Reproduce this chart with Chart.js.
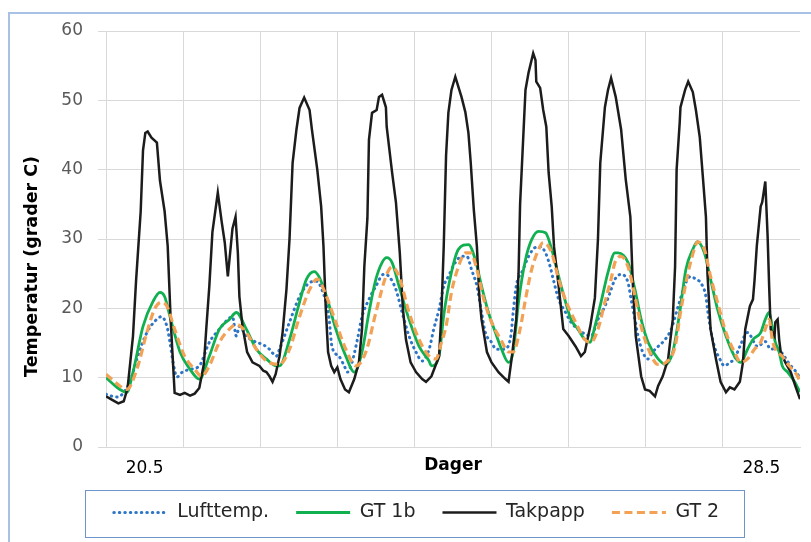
<!DOCTYPE html>
<html><head><meta charset="utf-8">
<script src="https://cdn.jsdelivr.net/npm/chart.js@4.4.0/dist/chart.umd.min.js"></script>
<style>html,body{margin:0;padding:0;background:#fff;}canvas{display:block;}</style>
</head><body>
<canvas id="c" width="811" height="542"></canvas>
<script>
// ---- data (days, °C) ----
const seriesNames = ['Lufttemp.', 'GT 1b', 'Takpapp', 'GT 2'];
const xTickValues = [20.5, 28.5];
const xTickLabels = ['20.5', '28.5'];
const yTickValues = [0, 10, 20, 30, 40, 50, 60];
const xAxisTitle = 'Dager';
const yAxisTitle = 'Temperatur (grader C)';

const luftDays = [20.00,20.14,20.31,20.40,20.53,20.63,20.72,20.79,20.83,20.87,20.92,20.99,21.09,21.21,21.34,21.47,21.58,21.64,21.69,21.73,21.82,21.95,22.03,22.12,22.21,22.25,22.38,22.51,22.64,22.73,22.80,22.89,22.93,23.02,23.09,23.13,23.19,23.26,23.32,23.41,23.50,23.60,23.67,23.76,23.84,23.93,24.02,24.10,24.19,24.25,24.32,24.38,24.44,24.53,24.61,24.68,24.74,24.81,24.87,24.92,25.00,25.06,25.16,25.25,25.28,25.32,25.41,25.48,25.57,25.63,25.70,25.76,25.80,25.87,25.96,26.03,26.12,26.21,26.29,26.38,26.47,26.55,26.60,26.68,26.77,26.81,26.86,26.90,26.96,27.03,27.09,27.16,27.25,27.33,27.42,27.52,27.58,27.65,27.71,27.78,27.80,27.84,27.89,27.96,28.02,28.09,28.15,28.22,28.32,28.45,28.55,28.62,28.68,28.77,28.86,28.97,29.00];
const luftTemp = [7.6,7.2,9.4,12.7,16.5,18.1,18.8,17.4,15.1,12.2,10.1,10.8,11.2,11.7,15.1,17,18.4,18.8,16,17.4,16,15.1,14.8,14.1,13.1,14.1,18,21.7,23.7,23.9,22.7,18.8,14.5,13.1,11.7,10.8,12.2,15.5,18.8,21.3,23.2,24.9,24.6,22.7,19.4,16,13.7,12.4,14.1,17,19.9,23.2,24.6,26.6,27.5,27.5,25.6,23.2,19.4,16.5,15.1,14.1,14.1,16,19.4,23.2,25.6,27.5,28.8,28.9,28,26,24.2,21.3,19.4,18,17,16.3,16,18.4,20.3,22.7,24.2,24.9,23.7,21.3,18.4,16,13.7,12.7,13.7,14.5,15.5,17,20.3,23.7,24.6,24.2,23.7,21.7,19.9,17,14.5,12.7,11.7,12.2,12.7,14.5,16.5,14.5,15.2,14.1,14.2,13.5,12,10.5,9.8];

const gt1bDays = [20.00,20.08,20.18,20.27,20.35,20.48,20.61,20.70,20.76,20.83,20.96,21.09,21.21,21.34,21.47,21.60,21.69,21.82,21.95,22.08,22.21,22.25,22.38,22.51,22.60,22.70,22.76,22.86,22.98,23.11,23.22,23.32,23.41,23.50,23.58,23.64,23.71,23.80,23.93,24.06,24.19,24.22,24.32,24.38,24.48,24.57,24.70,24.79,24.87,24.96,25.05,25.13,25.22,25.28,25.35,25.44,25.52,25.61,25.70,25.78,25.87,25.96,26.03,26.12,26.21,26.28,26.34,26.42,26.51,26.60,26.64,26.77,26.86,26.94,27.03,27.16,27.26,27.35,27.44,27.52,27.61,27.67,27.76,27.84,27.93,28.04,28.15,28.23,28.32,28.39,28.49,28.55,28.60,28.64,28.68,28.73,28.77,28.84,28.93,29.00];
const gt1bTemp = [10.0,9.2,8.3,7.9,10.8,17.4,21.0,22.3,21.7,18.8,13.7,11.2,9.8,13.1,17,18.4,19.4,17,14.1,12.7,11.7,11.7,15.5,20.9,24.2,25.3,24.6,21.7,17,13.1,10.8,13.7,19.4,24.2,26.6,27.3,26.6,23.2,18.4,14.5,12.4,11.7,13.2,19.0,25.2,28.5,29.2,27,23.2,19.4,16.5,14.1,12.2,13.7,20.9,27,29.9,31.1,30.9,28.5,24.6,20.9,18.4,17,15.5,15.1,17.4,20.9,25.2,28,28,26.6,22.7,18.4,15.1,12.7,11.9,13.7,19.4,25.6,28.5,29.6,28,24.2,19.9,16,13.1,12.2,14.1,15.5,16.5,18.4,19.4,17.4,15.1,13.7,11.7,10.8,9.4,7.9];

const takDays = [20.00,20.08,20.16,20.23,20.28,20.35,20.39,20.42,20.45,20.48,20.51,20.54,20.59,20.66,20.70,20.76,20.80,20.84,20.89,20.96,21.02,21.09,21.15,21.21,21.27,21.30,21.34,21.38,21.45,21.50,21.54,21.58,21.64,21.68,21.71,21.73,21.77,21.83,21.90,21.99,22.04,22.08,22.12,22.16,22.20,22.25,22.29,22.34,22.38,22.42,22.47,22.51,22.57,22.64,22.67,22.74,22.79,22.82,22.85,22.88,22.92,22.96,23.00,23.04,23.10,23.15,23.22,23.28,23.32,23.35,23.39,23.41,23.45,23.51,23.54,23.58,23.63,23.64,23.71,23.76,23.81,23.85,23.89,23.95,24.02,24.10,24.15,24.22,24.32,24.35,24.38,24.41,24.44,24.48,24.53,24.61,24.66,24.70,24.73,24.77,24.81,24.84,24.87,24.94,25.00,25.09,25.18,25.22,25.26,25.32,25.35,25.37,25.44,25.48,25.54,25.57,25.58,25.63,25.67,25.71,25.74,25.78,25.81,25.87,25.93,26.00,26.09,26.16,26.21,26.28,26.34,26.38,26.41,26.47,26.51,26.55,26.61,26.68,26.74,26.80,26.83,26.87,26.94,26.99,27.05,27.12,27.16,27.22,27.29,27.35,27.38,27.40,27.44,27.45,27.51,27.55,27.61,27.65,27.70,27.74,27.78,27.80,27.84,27.91,27.97,28.04,28.09,28.15,28.22,28.26,28.29,28.35,28.39,28.41,28.44,28.49,28.51,28.55,28.58,28.60,28.62,28.67,28.68,28.71,28.73,28.75,28.81,28.88,28.94,29.00];
const takTemp = [7.3,6.8,6.3,6.6,8.5,16,24,29,34,42.8,45.3,45.5,44.6,43.9,38.4,34,29,18,7.8,7.5,7.8,7.4,7.7,8.5,12,17,23.2,31,36.7,32.5,29.5,24.6,31.5,33.2,28,21.7,17.4,13.7,12.2,11.7,11,10.8,10.2,9.4,10.5,13.1,16.5,22.7,30,41,45.8,48.9,50.4,48.6,45.8,40,34.7,29,20,13.7,11.7,10.8,11.5,9.8,8.3,7.9,9.8,12.2,17,26,33,44.3,48.2,48.6,50.5,50.8,49,46.2,39.6,35.3,28,20,15.5,12.2,10.8,9.8,9.4,10.2,13.1,19.4,29,42,48.2,51.5,53.4,50.5,48.3,45.3,41,34.2,28.9,22,18.4,13.7,12.2,10.8,9.8,9.4,12.7,18.4,25,35,51.5,54,56.8,55.8,52.7,51.8,48.6,46.2,39.6,34.7,28.9,23.2,17,16,14.5,13.1,13.7,17.4,21.5,30,41,49,51.5,53.2,50.5,45.8,38.6,33.2,24,16,10.2,8.3,8.1,7.3,8.8,10.2,12.7,18.4,26,40,46.8,49,51.5,52.7,51.2,48.6,44.7,39,33.2,25,17,12.7,9.4,7.9,8.6,8.3,9.4,12.2,17,20.3,21.3,24,29,34.7,35.3,38.3,30.4,23.2,17,16,18,18.4,15.5,13.7,12.2,10.8,8.8,6.9];

const gt2Days = [20.00,20.18,20.27,20.40,20.53,20.63,20.72,20.79,20.89,21.02,21.15,21.24,21.34,21.47,21.60,21.69,21.82,21.95,22.08,22.25,22.38,22.51,22.64,22.74,22.86,22.98,23.11,23.24,23.37,23.50,23.63,23.71,23.80,23.93,24.06,24.19,24.28,24.35,24.41,24.48,24.57,24.66,24.73,24.81,24.90,25.00,25.12,25.22,25.28,25.37,25.44,25.52,25.61,25.67,25.78,25.87,25.97,26.09,26.21,26.29,26.38,26.47,26.55,26.60,26.68,26.77,26.86,26.94,27.05,27.16,27.26,27.38,27.45,27.55,27.64,27.67,27.76,27.84,27.93,28.04,28.15,28.23,28.32,28.41,28.49,28.55,28.60,28.64,28.68,28.77,28.86,28.97,29.00];
const gt2Temp = [10.5,8.8,8.3,11.2,16.5,19.9,20.9,20.3,17,13.1,11.2,10.2,11.7,15.1,17,17.7,16.5,14.1,12.4,11.9,14.1,18.8,22.7,24.2,21.7,18,14.1,11.7,13.7,19.4,24.6,26,24.6,19.4,15.5,13.1,12.7,15.1,17.4,22.3,26,28,28,25.6,21.3,18,15.5,13.7,13.7,17,21.3,25.6,28.5,29.5,28,24.2,20.9,18,15.5,15.1,17,20.9,24.2,26.6,27.5,26,21.7,17.4,13.7,11.9,12.2,14.5,19.4,25.2,28.9,29.6,28.5,24.6,20.9,16.5,13.7,12.2,12.7,14.1,15.1,17,18.4,15.5,14.1,13.1,11.7,10.2,9.4];

const zip = (xs, ys) => xs.map((x, i) => ({ x, y: ys[i] }));

Chart.defaults.font.family = "'DejaVu Sans', sans-serif";

const framePlugin = {
  id: 'frame',
  beforeDraw(chart) {
    const ctx = chart.ctx;
    ctx.save();
    ctx.fillStyle = '#ffffff';
    ctx.fillRect(0, 0, chart.width, chart.height);
    ctx.strokeStyle = '#a7c2e4';
    ctx.lineWidth = 2;
    ctx.strokeRect(9, 13, chart.width + 20, chart.height + 20);
    ctx.restore();
  },
  afterDraw(chart) {
    const hb = chart.legend.legendHitBoxes;
    if (!hb || !hb.length) return;
    const left = Math.min(...hb.map(b => b.left));
    const right = Math.max(...hb.map(b => b.left + b.width));
    const cy = hb[0].top + hb[0].height / 2;
    const ctx = chart.ctx;
    ctx.save();
    ctx.strokeStyle = '#6f93cb';
    ctx.lineWidth = 1;
    ctx.strokeRect(Math.round(left - 29) + 0.5, Math.round(cy - 23) + 0.5, Math.round(right - left + 54), 47);
    ctx.restore();
  }
};

new Chart(document.getElementById('c'), {
  type: 'line',
  data: {
    datasets: [
      { label: seriesNames[0], data: zip(luftDays, luftTemp), borderColor: '#2e75c6', borderWidth: 3,
        borderDash: [0.5, 5], borderCapStyle: 'round', cubicInterpolationMode: 'monotone', order: 4 },
      { label: seriesNames[1], data: zip(gt1bDays, gt1bTemp), borderColor: '#10b050', borderWidth: 2.8,
        cubicInterpolationMode: 'monotone', order: 3 },
      { label: seriesNames[2], data: zip(takDays, takTemp), borderColor: '#1c1c1c', borderWidth: 2.5,
        tension: 0, order: 2 },
      { label: seriesNames[3], data: zip(gt2Days, gt2Temp), borderColor: '#f3a155', borderWidth: 3.2,
        borderDash: [8, 4.5], cubicInterpolationMode: 'monotone', order: 1 }
    ]
  },
  options: {
    responsive: false,
    animation: false,
    elements: { point: { radius: 0, hoverRadius: 0 }, line: { fill: false } },
    layout: { padding: { left: 30, right: 8, top: 31, bottom: 10 } },
    plugins: {
      tooltip: { enabled: false },
      legend: {
        position: 'bottom',
        labels: {
          usePointStyle: true, pointStyle: 'line', pointStyleWidth: 54,
          font: { size: 19 }, color: '#262626', padding: 27,
          sort: (a, b) => a.datasetIndex - b.datasetIndex,
          generateLabels: chart => {
            const items = Chart.defaults.plugins.legend.labels.generateLabels(chart);
            items.forEach(it => {
              const ds = chart.data.datasets[it.datasetIndex];
              it.lineDash = ds.borderDash || [];
              it.lineWidth = ds.borderWidth;
              it.lineCap = ds.borderCapStyle || 'butt';
              it.strokeStyle = ds.borderColor;
              it.fillStyle = ds.borderColor;
            });
            return items;
          }
        }
      }
    },
    scales: {
      x: {
        type: 'linear', min: 20, max: 29,
        afterFit: s => { s.height = 29; },
        afterBuildTicks: s => {
          const t = [];
          for (let d = 20; d <= 29; d++) t.push({ value: d });
          xTickValues.forEach(v => t.push({ value: v }));
          s.ticks = t.sort((a, b) => a.value - b.value);
        },
        ticks: {
          autoSkip: false, maxRotation: 0, padding: 11, color: '#000000', font: { size: 17 },
          callback: v => { const i = xTickValues.indexOf(v); return i >= 0 ? xTickLabels[i] : ''; }
        },
        grid: {
          drawTicks: false,
          color: c => (c.tick && Number.isInteger(c.tick.value) && c.tick.value < 29) ? '#d9d9d9' : 'rgba(0,0,0,0)',
          lineWidth: 1
        },
        border: { display: true, color: '#d9d9d9' },
        title: { display: true, text: xAxisTitle, color: '#000000', font: { size: 17, weight: 'bold' }, padding: { top: 0, bottom: 0 } }
      },
      y: {
        min: 0, max: 60,
        afterFit: s => { s.width = 76; },
        afterBuildTicks: s => { s.ticks = yTickValues.map(v => ({ value: v })); },
        ticks: { color: '#595959', padding: 15, font: { size: 17 } },
        grid: { color: '#d9d9d9', tickLength: 8, lineWidth: 1 },
        border: { display: true, color: '#d9d9d9' },
        title: { display: true, text: yAxisTitle + '\u00a0'.repeat(9), color: '#000000',
                 font: { size: 17.5, weight: 'bold' }, padding: { top: -8, bottom: 0 } }
      }
    }
  },
  plugins: [framePlugin]
});
</script>
</body></html>
